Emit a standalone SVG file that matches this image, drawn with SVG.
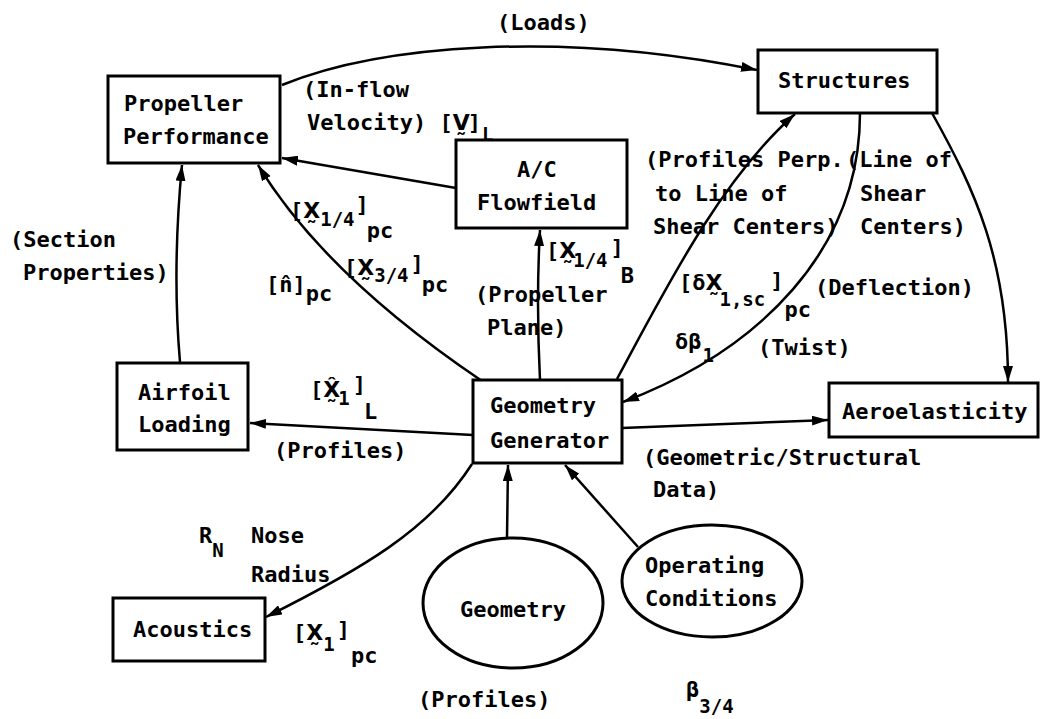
<svg xmlns="http://www.w3.org/2000/svg" width="1043" height="719" viewBox="0 0 1043 719">
<style>
.box{fill:#fff;stroke:#000;stroke-width:3}
.t{font-family:"DejaVu Sans Mono","Liberation Mono",monospace;font-size:22px;font-weight:bold;fill:#000}
.b{font-size:19px}
.x{font-family:"DejaVu Sans",sans-serif}
.c{fill:none;stroke:#000;stroke-width:2.5}
</style>
<defs>
<marker id="ah" viewBox="0 0 16 10" refX="16" refY="5" markerWidth="16" markerHeight="10" markerUnits="userSpaceOnUse" orient="auto">
<path d="M0,0 L16,5 L0,10 z" fill="#000"/>
</marker>
</defs>
<rect width="1043" height="719" fill="#fff"/>
<g id="connectors">
<path class="c" d="M282,85 C380,45 560,30 757,70" marker-end="url(#ah)"/>
<path class="c" d="M456,188 L282,158" marker-end="url(#ah)"/>
<path class="c" d="M180,362 Q172,270 182,165" marker-end="url(#ah)"/>
<path class="c" d="M482,381 Q325,275 258,165" marker-end="url(#ah)"/>
<path class="c" d="M540,380 Q536,300 540,230" marker-end="url(#ah)"/>
<path class="c" d="M617,379 C665,290 720,180 795,114" marker-end="url(#ah)"/>
<path class="c" d="M860,113 C860,250 760,350 623,402" marker-end="url(#ah)"/>
<path class="c" d="M932,113 C975,190 1008,260 1008,382" marker-end="url(#ah)"/>
<path class="c" d="M473,435 L250,423" marker-end="url(#ah)"/>
<path class="c" d="M622,428 L828,420" marker-end="url(#ah)"/>
<path class="c" d="M472,464 C430,530 360,570 266,617" marker-end="url(#ah)"/>
<path class="c" d="M507,538 L508,465" marker-end="url(#ah)"/>
<path class="c" d="M638,547 L565,465" marker-end="url(#ah)"/>
</g>
<g id="labels">
<text class="t" x="497" y="30">(Loads)</text>
<text class="t" x="303" y="97">(In-flow</text>
<text class="t" x="307" y="130">Velocity) [<tspan class="x">V̰</tspan><tspan dx="-2">]</tspan><tspan class="b" dx="1" dy="11">L</tspan></text>
<text class="t" x="10" y="247">(Section</text>
<text class="t" x="23" y="280">Properties)</text>
<text class="t" x="290" y="218">[<tspan class="x">X̰</tspan><tspan class="b" dx="0" dy="8">1/4</tspan><tspan dx="1" dy="-14">]</tspan><tspan dx="-2" dy="26">pc</tspan></text>
<text class="t" x="344" y="275">[<tspan class="x">X̰</tspan><tspan class="b" dx="0" dy="7">3/4</tspan><tspan dx="2" dy="-11">]</tspan><tspan dx="-2" dy="21">pc</tspan></text>
<text class="t" x="266" y="292">[n̂]<tspan dy="9">pc</tspan></text>
<text class="t" x="546" y="258">[<tspan class="x">X̰</tspan><tspan class="b" dx="-3" dy="9">1/4</tspan><tspan dx="3" dy="-12">]</tspan><tspan dx="-3" dy="28">B</tspan></text>
<text class="t" x="475" y="302">(Propeller</text>
<text class="t" x="487" y="335">Plane)</text>
<text class="t" x="645" y="167">(Profiles Perp.</text>
<text class="t" x="655" y="201">to Line of</text>
<text class="t" x="653" y="234">Shear Centers)</text>
<text class="t" x="846" y="167">(Line of</text>
<text class="t" x="860" y="201">Shear</text>
<text class="t" x="860" y="234">Centers)</text>
<text class="t" x="679" y="290">[δ<tspan class="x">X̰</tspan><tspan class="b" dx="-3" dy="16">1,sc</tspan><tspan dx="5" dy="-18">]</tspan><tspan dx="1" dy="29">pc</tspan></text>
<text class="t" x="815" y="295">(Deflection)</text>
<text class="t" x="675" y="349">δβ<tspan class="b" dx="1" dy="13">1</tspan></text>
<text class="t" x="758" y="355">(Twist)</text>
<text class="t" x="310" y="397">[<tspan class="x">X̰̂</tspan><tspan class="b" dx="-2" dy="8">1</tspan><tspan dx="3" dy="-13">]</tspan><tspan dx="-2" dy="27">L</tspan></text>
<text class="t" x="274" y="458">(Profiles)</text>
<text class="t" x="643" y="465">(Geometric/Structural</text>
<text class="t" x="653" y="497">Data)</text>
<text class="t" x="199" y="543">R<tspan class="b" dy="14">N</tspan></text>
<text class="t" x="251" y="543">Nose</text>
<text class="t" x="251" y="582">Radius</text>
<text class="t" x="293" y="640">[<tspan class="x">X̰</tspan><tspan class="b" dx="0" dy="11">1</tspan><tspan dx="2" dy="-14">]</tspan><tspan dx="1" dy="26">pc</tspan></text>
<text class="t" x="418" y="707">(Profiles)</text>
<text class="t" x="686" y="697">β<tspan class="b" dy="16">3/4</tspan></text>
</g>
<g id="propeller-performance">
<rect class="box" x="108" y="76" width="172" height="87"/>
<text class="t" x="124" y="111">Propeller</text>
<text class="t" x="123" y="144">Performance</text>
</g>
<g id="structures">
<rect class="box" x="758" y="50" width="179" height="63"/>
<text class="t" x="778" y="88">Structures</text>
</g>
<g id="ac-flowfield">
<rect class="box" x="456" y="140" width="171" height="88"/>
<text class="t" x="517" y="177">A/C</text>
<text class="t" x="477" y="210">Flowfield</text>
</g>
<g id="geometry-generator">
<rect class="box" x="473" y="380" width="149" height="83"/>
<text class="t" x="490" y="413">Geometry</text>
<text class="t" x="490" y="448">Generator</text>
</g>
<g id="airfoil-loading">
<rect class="box" x="117" y="363" width="131" height="87"/>
<text class="t" x="138" y="400">Airfoil</text>
<text class="t" x="138" y="432">Loading</text>
</g>
<g id="aeroelasticity">
<rect class="box" x="829" y="383" width="209" height="54"/>
<text class="t" x="842" y="419">Aeroelasticity</text>
</g>
<g id="acoustics">
<rect class="box" x="113" y="598" width="152" height="63"/>
<text class="t" x="133" y="637">Acoustics</text>
</g>
<g id="geometry">
<ellipse class="box" cx="513" cy="603" rx="90" ry="65"/>
<text class="t" x="460" y="617">Geometry</text>
</g>
<g id="operating-conditions">
<ellipse class="box" cx="712" cy="581" rx="90" ry="56"/>
<text class="t" x="645" y="573">Operating</text>
<text class="t" x="645" y="606">Conditions</text>
</g>
</svg>
